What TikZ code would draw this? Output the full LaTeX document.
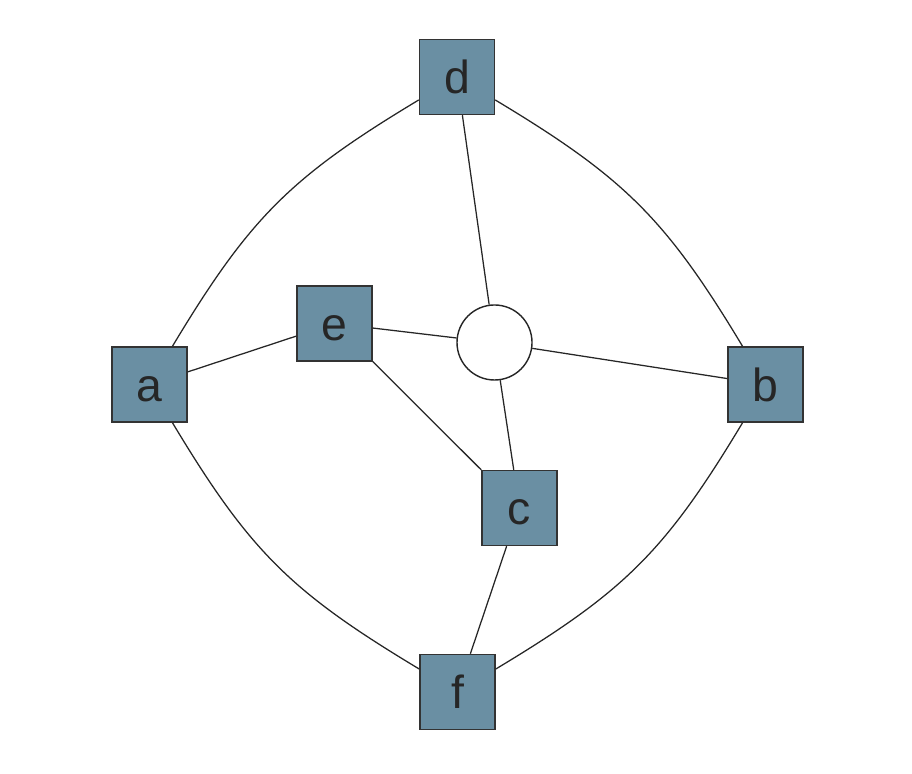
\documentclass[tikz,border=0pt]{standalone}
\usepackage{fontspec}
\setmainfont{Liberation Sans}
\definecolor{grigioblu}{RGB}{106,143,163}
\definecolor{bordo}{RGB}{51,51,51}
\begin{document}
\begin{tikzpicture}[x=0.025cm, y=0.025cm,
		nodo/.style={draw=bordo, line width=1pt, fill=grigioblu, minimum size=1.875cm, inner sep=0pt,
			text height=23.5pt, text depth=0pt, text=black!85, font=\fontsize{33}{36}\selectfont},
		centro/.style={draw=black!85, line width=1pt, fill=white, circle, minimum size=1.875cm, inner sep=0pt},
		arco/.style={draw=black!85, line width=0.9pt}]
		\useasboundingbox (0,0) rectangle (912,774);
		
		% nodi
		\node[nodo] (d) at (457,697) {d};
		\node[nodo] (a) at (149.5,389.5) {a};
		\node[nodo] (b) at (765.5,389.5) {b};
		\node[nodo] (e) at (334.5,450.5) {e};
		\node[nodo] (c) at (519.5,266) {c};
		\node[nodo] (f) at (457.5,82) {f};
		\node[centro] (o) at (494.5,431.5) {};
		
		% archi diritti
		\draw[arco] (a) -- (e);
		\draw[arco] (e) -- (o);
		\draw[arco] (e) -- (c);
		\draw[arco] (d) -- (o);
		\draw[arco] (o) -- (b);
		\draw[arco] (o) -- (c);
		\draw[arco] (c) -- (f);
		
		% archi curvi esterni
		\draw[arco] (a) to[out=59, in=211, looseness=1.1] (d);
		\draw[arco] (d) to[out=-31, in=121, looseness=1.1] (b);
		\draw[arco] (a) to[out=-59, in=149, looseness=1.1] (f);
		\draw[arco] (f) to[out=31, in=239, looseness=1.1] (b);
		
	\end{tikzpicture}
\end{document}
